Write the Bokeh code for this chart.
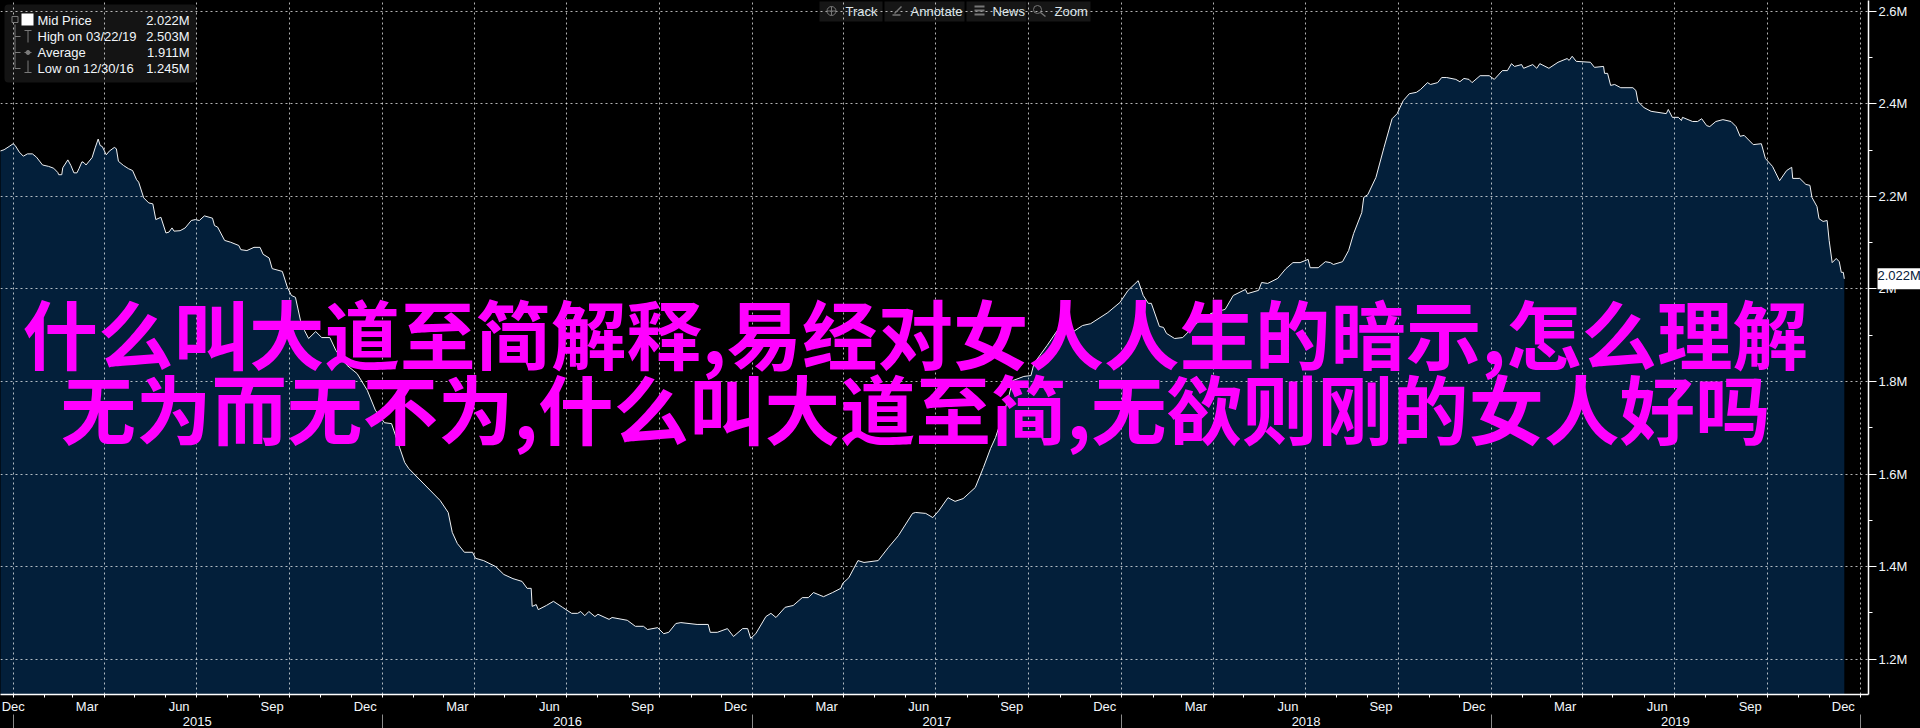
from datetime import date
from bokeh.plotting import figure
from bokeh.embed import file_html
from bokeh.resources import INLINE
from bokeh.models import (Range1d, FixedTicker, LinearAxis, Label, BoxAnnotation, Grid,
                          GlobalInlineStyleSheet)

# days since 2015-01-01
days = [-13,-9,-4,0,2,6,10,14,19,23,29,35,40,44,45,48,49,54,57,60,63,65,68,70,72,78,81,84,86,88,92,95,100,102,104,109,114,118,122,124,129,134,138,141,146,151,154,157,159,165,170,176,180,184,189,197,199,202,209,215,223,225,231,238,244,247,253,256,266,271,275,279,284,288,292,299,305,313,319,330,340,350,358,367,374,378,382,387,391,
422,430,434,439,446,454,457,465,477,485,494,503,508,512,513,517,519,527,534,543,552,558,561,565,569,575,578,589,592,607,615,623,627,637,643,648,655,660,676,687,689,696,706,712,721,726,729,734,744,749,754,763,771,780,786,791,801,810,818,820,826,835,841,855,865,875,889,892,902,909,915,924,931,939,951,959,966,971,983,988,999,1006,1009,1022,1032,1048,1057,1065,1082,1094,1102,1112,1117,1122,1125,1133,1137,1140,1148,1156,1171,1184,1198,1206,1218,1220,1231,1234,1240,1250,1258,1265,1272,1280,1282,1290,1297,1302,1305,1314,1320,1325,1333,1335,1339,1347,1355,1363,1368,1374,1380,1387,1391,1398,1401,1408,1412,1417,1426,1430,1434,1439,1442,1450,1459,1464,1472,1477,1481,1484,1491,1493,1502,1506,1509,1518,1527,1536,1538,1541,1545,1559,1563,1572,1573,1576,1579,1583,1589,1601,1604,1606,1612,1619,1634,1636,1640,1646,1649,1650,1660,1665,1669,1674,1677,1683,1690,1698,1703,1707,1711,1720,1728,1732,1739,1746,1753,1758,1759,1766,1772,1776,1778,1783,1785,1789,1793,1795,1798,1802,1805,1807,1809,1810]
# mid price, thousands
mid_k = [2298,2301,2308,2314,2310,2296,2287,2292,2292,2285,2268,2265,2261,2252,2247,2247,2262,2279,2267,2251,2251,2260,2275,2273,2268,2284,2305,2324,2310,2308,2290,2298,2306,2303,2276,2267,2260,2256,2236,2231,2197,2186,2184,2150,2155,2121,2123,2132,2125,2126,2132,2148,2150,2148,2158,2153,2137,2134,2105,2101,2094,2085,2083,2090,2090,2075,2067,2044,2038,2004,1986,1982,1932,1910,1893,1908,1895,1895,1867,1835,1817,1781,1738,1711,1709,1683,1657,1625,1612,
1543,1517,1474,1450,1431,1431,1418,1413,1400,1383,1374,1368,1353,1353,1314,1318,1307,1316,1325,1312,1299,1299,1303,1294,1303,1292,1297,1286,1290,1284,1271,1271,1264,1268,1255,1258,1277,1279,1275,1275,1258,1258,1266,1249,1266,1266,1245,1255,1292,1299,1290,1312,1316,1333,1333,1344,1335,1344,1353,1364,1376,1413,1409,1413,1441,1467,1515,1517,1515,1506,1521,1549,1541,1547,1571,1614,1655,1679,1759,1802,1811,1813,1839,1878,1910,1908,1921,1925,1949,1971,1997,2018,1986,1969,1969,1919,1917,1904,1893,1895,1928,1947,1956,1986,1999,1990,1997,2014,2012,2023,2044,2057,2057,2064,2046,2046,2059,2057,2053,2059,2083,2120,2165,2198,2204,2241,2306,2368,2379,2407,2422,2425,2431,2446,2442,2446,2457,2457,2453,2448,2455,2453,2446,2461,2461,2453,2472,2472,2487,2481,2485,2477,2485,2477,2487,2477,2490,2498,2494,2503,2492,2490,2479,2481,2466,2466,2440,2442,2435,2435,2429,2405,2392,2384,2379,2388,2371,2371,2364,2371,2362,2362,2368,2353,2351,2362,2366,2362,2351,2330,2332,2312,2314,2282,2265,2234,2256,2263,2239,2239,2226,2224,2198,2178,2152,2146,2148,2105,2057,2066,2059,2036,2036,2022]

years = [2015, 2016, 2017, 2018, 2019]
quarter_months = {1: "Dec", 4: "Mar", 7: "Jun", 10: "Sep"}
y_ticks = [1.2, 1.4, 1.6, 1.8, 2.0, 2.2, 2.4, 2.6]
y_labels = ["1.2M", "1.4M", "1.6M", "1.8M", "2M", "2.2M", "2.4M", "2.6M"]
legend_rows = [("Mid Price", "2.022M"), ("High on 03/22/19", "2.503M"),
               ("Average", "1.911M"), ("Low on 12/30/16", "1.245M")]
tools = ["Track", "Annotate", "News", "Zoom"]
line1 = "什么叫大道至简解释,易经对女人人生的暗示,怎么理解"
line2 = "无为而无不为,什么叫大道至简,无欲则刚的女人好吗"

mid = [v / 1000 for v in mid_k]
BASE = date(2015, 1, 1)
def dnum(y, m): return (date(y, m, 1) - BASE).days

W, H, FW, FH = 1920, 728, 1868, 694
xs0, xs1 = -12.55, 1833.9
ys0, ys1 = 1.1236, 2.6235
def X(px): return xs0 + px / FW * (xs1 - xs0)
def Y(px): return ys1 - px / FH * (ys1 - ys0)

p = figure(width=W, height=H, frame_width=FW, frame_height=FH, output_backend="svg", toolbar_location=None,
           x_range=Range1d(xs0, xs1), y_range=Range1d(ys0, ys1), y_axis_location="right",
           x_axis_type=None, min_border=0, min_border_left=0, min_border_right=0,
           min_border_top=0, min_border_bottom=0, background_fill_color="#000000",
           border_fill_color="#000000", outline_line_color=None)
p.stylesheets = [GlobalInlineStyleSheet(css="html,body{margin:0;background:#000;overflow:hidden}")]
p.ygrid.visible = False

FONT = "Liberation Sans"
TXT = "#f2f6fa"

p.varea(days, [ys0] * len(days), mid, fill_color="#031f3a", level="image")
p.line(days, mid, line_color="#f0f2f4", line_width=1)

def box(x0, x1, y0, y1, color, alpha=1.0, radius=0):
    p.add_layout(BoxAnnotation(left=X(x0), right=X(x1), top=Y(y0), bottom=Y(y1), fill_color=color,
                               fill_alpha=alpha, line_color=None, border_radius=radius, level="underlay"))

# legend panel and tool strip backgrounds sit under the grid
box(4, 196, 4, 82, "#141414", 1, 4)
for (x0, x1) in [(819, 882), (884, 964), (966, 1026), (1027, 1090)]:
    box(x0, x1, 1, 21, "#161616")

# axes
qs = [dnum(y, m) for y in years for m in (1, 4, 7, 10)] + [dnum(2020, 1)]
months = [dnum(y, m) for y in years for m in range(1, 13)] + [dnum(2020, 1)]
lab_pos, lab_txt = [], {}
for i, q in enumerate(qs):
    d = date.fromordinal(BASE.toordinal() + q)
    pos = 0 if i == 0 else q - 17
    lab_pos.append(pos)
    lab_txt[pos] = quarter_months[d.month]
b = LinearAxis(ticker=FixedTicker(ticks=lab_pos, minor_ticks=months), major_label_overrides=lab_txt)
b.axis_line_color = "#ffffff"
b.axis_line_width = 1.5
b.major_tick_line_color = None
b.minor_tick_line_color = "#ffffff"
b.minor_tick_out, b.minor_tick_in = 3, 0
b.major_tick_out, b.major_tick_in = 3, 0
b.major_label_standoff = 1
b.major_label_text_font = FONT
b.major_label_text_font_size = "13px"
b.major_label_text_color = TXT
p.add_layout(b, "below")

y_pos = [(dnum(y, 1) + dnum(y + 1, 1)) // 2 for y in years]
c = LinearAxis(ticker=FixedTicker(ticks=y_pos, minor_ticks=[dnum(y, 1) for y in years] + [dnum(2020, 1)]),
               major_label_overrides={k: str(y) for k, y in zip(y_pos, years)})
c.axis_line_color = None
c.major_tick_line_color = None
c.major_tick_out = c.major_tick_in = 0
c.minor_tick_line_color = "#8a8a8a"
c.minor_tick_in, c.minor_tick_out = 2, 16
c.major_label_standoff = -16
c.major_label_text_font = FONT
c.major_label_text_font_size = "13px"
c.major_label_text_color = TXT
p.add_layout(c, "below")

r = p.yaxis[0]
r.ticker = FixedTicker(ticks=y_ticks, minor_ticks=[1.2 + 0.1 * i for i in range(15)])
r.major_label_overrides = dict(zip(y_ticks, y_labels))
r.axis_line_color = r.major_tick_line_color = r.minor_tick_line_color = "#ffffff"
r.axis_line_width = 1.5
r.major_tick_out, r.major_tick_in, r.minor_tick_out, r.minor_tick_in = 8, 0, 4, 0
r.major_label_standoff = 2
r.major_label_text_font = FONT
r.major_label_text_font_size = "13px"
r.major_label_text_color = TXT

# grid
gx = Grid(dimension=0, ticker=FixedTicker(ticks=qs))
gy = Grid(dimension=1, ticker=FixedTicker(ticks=y_ticks))
for g in (gx, gy):
    g.grid_line_color = "#ffffff"
    g.grid_line_alpha = 0.7
    g.grid_line_dash = "2 3"
    g.grid_line_width = 1
    g.level = "underlay"
    p.add_layout(g)

def label(txt, x, y, size=13, color=TXT, align="left", font=FONT, style="normal", **kw):
    p.add_layout(Label(x=X(x), y=Y(y), text=txt, text_font=font, text_font_size=f"{size}px",
                       text_color=color, text_align=align, text_baseline="middle",
                       text_font_style=style, level="overlay", **kw))

# legend
box(21, 33, 13, 25, "#ffffff")
for (l, v), yy in zip(legend_rows, (20, 36, 52, 68)):
    label(l, 37, yy)
    label(v, 189, yy, align="right")
tree = "#7a7a7a"
p.segment([X(14.5)], [Y(24)], [X(14.5)], [Y(68)], line_color=tree)
p.segment([X(14.5)] * 3, [Y(36), Y(52), Y(68)], [X(20)] * 3, [Y(36), Y(52), Y(68)], line_color=tree)
p.scatter([X(14.5)], [Y(19)], marker="square", size=6, fill_color="#141414", line_color=tree)
p.segment([X(27.5), X(24), X(24), X(27.5), X(24)], [Y(30), Y(30), Y(52), Y(72), Y(72)],
          [X(27.5), X(31), X(31), X(27.5), X(31)], [Y(42), Y(30), Y(52), Y(60), Y(72)], line_color=tree)
p.scatter([X(27.5)], [Y(52)], marker="circle", size=4, fill_color=tree, line_color=tree)

# tool strip
for t, tx in zip(tools, (845, 910, 992, 1054)):
    label(t, tx, 10.5, color="#dfe6ea")
p.scatter([X(831)], [Y(10.5)], marker="circle_cross", size=9, fill_color=None, line_color="#777777")
p.segment([X(892), X(894)], [Y(14.5), Y(13)], [X(900), X(901)], [Y(14.5), Y(6)], line_color="#777777", line_width=1.5)
p.segment([X(974)] * 3, [Y(6), Y(10), Y(14)], [X(984)] * 3, [Y(6), Y(10), Y(14)], line_color="#777777", line_width=2)
p.scatter([X(1037)], [Y(9)], marker="circle", size=8, fill_color=None, line_color="#777777")
p.segment([X(1040)], [Y(12)], [X(1045)], [Y(16)], line_color="#777777", line_width=1.5)

# last price tag, in the right-hand panel so that the frame does not clip it
p.add_layout(Label(x=X(1877), y=mid[-1], text="2.022M", text_font=FONT, text_font_size="13px",
                   text_color="#06203a", text_baseline="middle", background_fill_color="#ffffff",
                   padding=(0, 3, 0, 6), level="overlay"), "right")

# overlay title text
CJK = "Noto Sans CJK SC"
label(line1, 22, 330, size=75.5, color="#ff00ff", font=CJK, style="bold")
label(line2, 60, 405, size=75.5, color="#ff00ff", font=CJK, style="bold")

open("out.html", "w").write(file_html(p, INLINE))
